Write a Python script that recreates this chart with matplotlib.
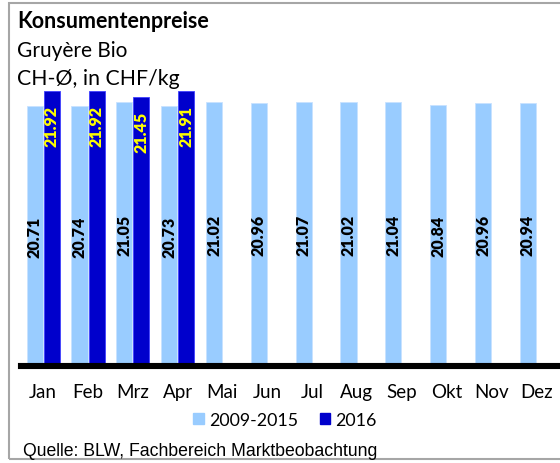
import matplotlib
matplotlib.use("Agg")
import matplotlib.pyplot as plt
from matplotlib.patches import Rectangle, Patch

plt.rcParams['font.family'] = ['Lato', 'DejaVu Sans']

# Monatliche Konsumentenpreise Gruyère Bio, CHF/kg
months = ["Jan", "Feb", "Mrz", "Apr", "Mai", "Jun", "Jul", "Aug", "Sep", "Okt", "Nov", "Dez"]
avg_2009_2015 = [20.71, 20.74, 21.05, 20.73, 21.02, 20.96, 21.07, 21.02, 21.04, 20.84, 20.96, 20.94]
prices_2016 = [21.92, 21.92, 21.45, 21.91]

light = "#99ccff"
dark = "#0000cc"

W, H = 560, 464
fig = plt.figure(figsize=(W / 100, H / 100), dpi=100)

# Plotbereich in Pixeln
left, right, top, bottom = 20.6, 558.6, 91.2, 367
ax = fig.add_axes([left / W, 1 - bottom / H, (right - left) / W, (bottom - top) / H])

x = list(range(len(months)))
bw = 0.36
ax.bar([i - 0.185 for i in x], avg_2009_2015, width=bw, color=light,
       edgecolor="#c8e2ff", linewidth=0.6, label="2009-2015", zorder=2)
x16 = x[:len(prices_2016)]
ax.bar([i + 0.195 for i in x16], prices_2016, width=bw, color=dark,
       edgecolor="#4040ff", linewidth=0.6, label="2016", zorder=2)

for i, v in zip(x, avg_2009_2015):
    ax.text(i - 0.185, v / 2, f"{v:.2f}", rotation=90, ha="center", va="center",
            fontsize=11.5, fontweight="heavy", color="black", zorder=3)
for i, v in zip(x16, prices_2016):
    ax.annotate(f"{v:.2f}", (i + 0.195, v), xytext=(0, -10), textcoords="offset points",
                rotation=90, ha="center", va="top", fontsize=11.5,
                fontweight="heavy", color="#ffff00", zorder=3)

ax.set_xlim(-0.5, 11.5)
ax.set_ylim(0, 22)
ax.axhline(0, color="black", linewidth=4.4, zorder=4, clip_on=False)
for s in ax.spines.values():
    s.set_visible(False)
ax.set_yticks([])
ax.set_xticks(x)
ax.set_xticklabels(months, fontsize=13.5)
ax.tick_params(axis="x", length=0, pad=12)

handles = [Patch(color=light, label="2009-2015"), Patch(color=dark, label="2016")]
fig.legend(handles=handles, loc="center", bbox_to_anchor=(285 / W, 1 - 421 / H), ncol=2,
           frameon=False, fontsize=12.8, handlelength=0.6, handleheight=0.6,
           handletextpad=0.3, columnspacing=1.2)

# Titel
fig.text(17 / W, 1 - 28 / H, "Konsumentenpreise", fontsize=15.5, fontweight="bold", va="baseline")
fig.text(17 / W, 1 - 57 / H, "Gruyère Bio", fontsize=15, va="baseline")
fig.text(17 / W, 1 - 85 / H, "CH-Ø, in CHF/kg", fontsize=15.3, va="baseline")

fig.text(23 / W, 1 - 456 / H, "Quelle: BLW, Fachbereich Marktbeobachtung",
         fontsize=12.7, family=["Liberation Sans", "DejaVu Sans"], va="baseline")

# Rahmen
fig.patches.append(Rectangle((8.5 / W, 1 - 459.5 / H), 1.2, 456 / H, transform=fig.transFigure,
                             fill=False, edgecolor="#a6a6a6", linewidth=1.5))

fig.savefig("out.png", dpi=100)
